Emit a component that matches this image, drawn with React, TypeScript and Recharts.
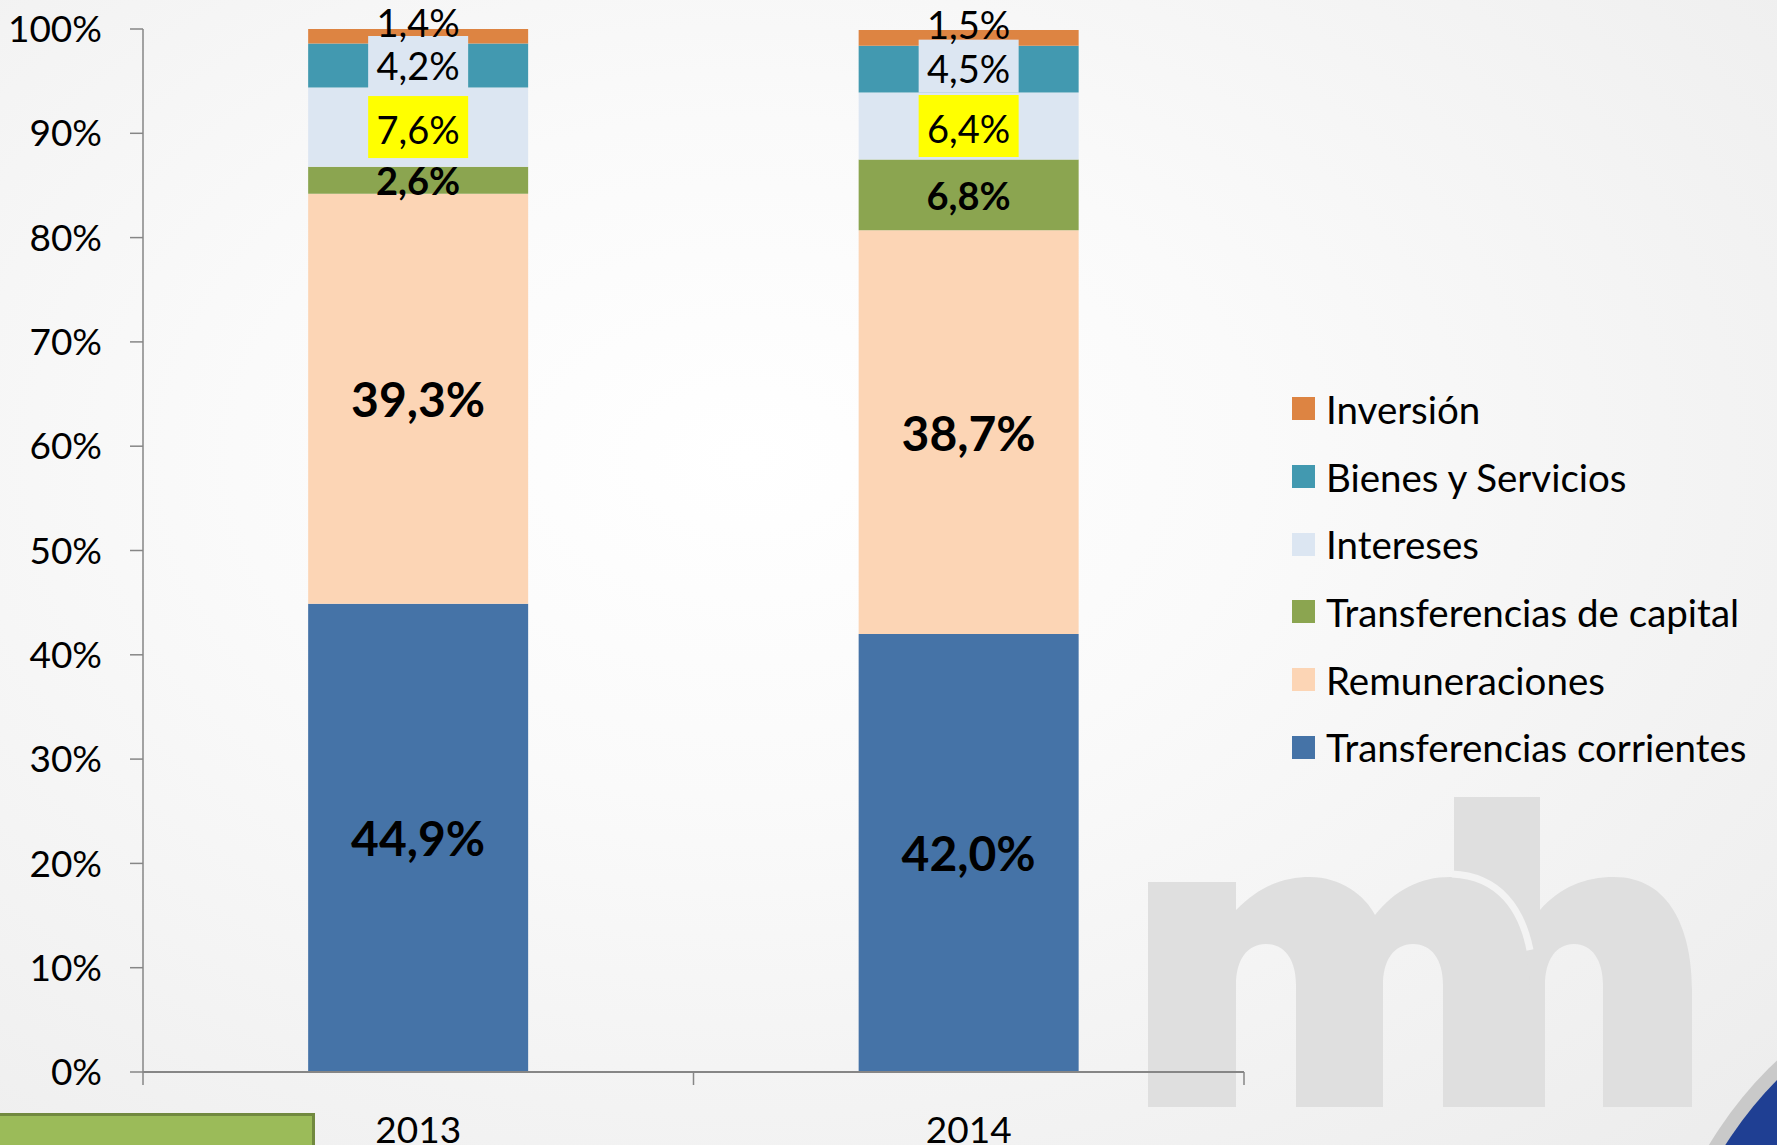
import { BarChart, Bar, XAxis, YAxis, LabelList } from 'recharts';

const years = ['2013', '2014'];
const transCorrientes = [44.9, 42.0];
const remuneraciones = [39.3, 38.7];
const transCapital = [2.6, 6.8];
const intereses = [7.6, 6.4];
const bienesServicios = [4.2, 4.5];
const inversion = [1.4, 1.5];
const yTicks = [0, 10, 20, 30, 40, 50, 60, 70, 80, 90, 100];

// bottom to top of the stack
const series = [
  { key: 'tc', name: 'Transferencias corrientes', values: transCorrientes, color: '#4573a7', label: 'big' },
  { key: 'rem', name: 'Remuneraciones', values: remuneraciones, color: '#fcd5b5', label: 'big' },
  { key: 'cap', name: 'Transferencias de capital', values: transCapital, color: '#8ba550', label: 'bold' },
  { key: 'int', name: 'Intereses', values: intereses, color: '#dce6f2', label: 'yellow' },
  { key: 'bys', name: 'Bienes y Servicios', values: bienesServicios, color: '#4299b0', label: 'box' },
  { key: 'inv', name: 'Inversión', values: inversion, color: '#dd8442', label: 'above' },
];

const data = years.map((year, i) => {
  const row: Record<string, string | number> = { year };
  series.forEach((s) => (row[s.key] = s.values[i]));
  return row;
});

const FONT = 'Lato, "Open Sans", sans-serif';
const fmt = (v: number) => v.toFixed(1).replace('.', ',') + '%';

function makeLabel(kind: string) {
  return (props: any) => {
    const { x, y, width, height, value } = props;
    const cx = x + width / 2;
    let cy = y + height / 2;
    const text = fmt(Number(value));
    if (kind === 'big') {
      return (
        <text x={cx} y={cy} textAnchor="middle" dominantBaseline="central" fontFamily={FONT} fontSize={48} fontWeight={700} fill="#000">
          {text}
        </text>
      );
    }
    if (kind === 'bold') {
      return (
        <text x={cx} y={cy} textAnchor="middle" dominantBaseline="central" fontFamily={FONT} fontSize={38} fontWeight={700} fill="#000">
          {text}
        </text>
      );
    }
    if (kind === 'above') {
      cy = cy - 14;
      return (
        <text x={cx} y={cy} textAnchor="middle" dominantBaseline="central" fontFamily={FONT} fontSize={38} fill="#000">
          {text}
        </text>
      );
    }
    const boxH = kind === 'yellow' ? 62 : 53;
    if (kind === 'box') cy = cy - 3;
    return (
      <g>
        <rect x={cx - 50} y={cy - boxH / 2} width={100} height={boxH} fill={kind === 'yellow' ? '#ffff00' : '#dce6f2'} />
        <text x={cx} y={cy + 2} textAnchor="middle" dominantBaseline="central" fontFamily={FONT} fontSize={38} fill="#000">
          {text}
        </text>
      </g>
    );
  };
}

function YearTick(props: any) {
  const { x, y, payload, index, visibleTicksCount } = props;
  const half = payload && payload.offset ? payload.offset : 275;
  return (
    <g>
      <line x1={x - half} y1={y} x2={x - half} y2={y + 13} stroke="#868686" strokeWidth={1.5} />
      {index === visibleTicksCount - 1 && (
        <line x1={x + half} y1={y} x2={x + half} y2={y + 13} stroke="#868686" strokeWidth={1.5} />
      )}
      <text x={x} y={y + 56} textAnchor="middle" dominantBaseline="central" fontFamily={FONT} fontSize={37} fill="#000">
        {payload.value}
      </text>
    </g>
  );
}

function Watermark() {
  return (
    <svg width={1777} height={1145} style={{ position: 'absolute', left: 0, top: 0 }}>
      <path
        d="M1454,797 H1540 V910 C1560,887 1585,877 1614,877 C1670,877 1692,930 1692,990 V1107 H1603 V985 C1603,960 1592,944 1574,944 C1556,944 1545,960 1545,985 V1107 H1454 Z"
        fill="#dfdfdf"
      />
      <path
        d="M1148,1107 V882 H1236 V910 C1260,885 1285,877 1310,877 C1340,877 1365,895 1375,915 C1395,890 1420,877 1450,877 C1505,877 1528,925 1530,990 V1107 H1443 V985 C1443,960 1432,944 1413,944 C1394,944 1383,960 1383,985 V1107 H1296 V985 C1296,960 1285,944 1266,944 C1247,944 1236,960 1236,985 V1107 Z"
        fill="#dfdfdf"
      />
      <path d="M1452,874 C1500,876 1522,910 1530,950" fill="none" stroke="#f3f3f3" strokeWidth={7} />
      <circle cx={2050} cy={1350} r={398} fill="#c9c9c9" />
      <circle cx={2050} cy={1350} r={384} fill="#1f3f93" />
    </svg>
  );
}

export default function App() {
  const legendItems = [...series].reverse();
  return (
    <div
      style={{
        position: 'absolute',
        left: 0,
        top: 0,
        width: 1777,
        height: 1145,
        overflow: 'hidden',
        background: 'radial-gradient(ellipse at 42% 40%, #ffffff 0%, #fafafa 35%, #ececec 100%)',
      }}
    >
      <Watermark />
      <div style={{ position: 'absolute', left: 0, top: 1113, width: 312, height: 40, background: '#9bbb59', borderTop: '3px solid #71893f', borderRight: '3px solid #71893f' }} />
      <div style={{ position: 'absolute', left: 0, top: 0 }}>
        <BarChart width={1777} height={1145} data={data} margin={{ top: 29, right: 533, bottom: 0, left: 0 }} barCategoryGap="30%">
          <XAxis
            dataKey="year"
            height={73}
            tickLine={false}
            tickSize={0}
            tickMargin={0}
            axisLine={{ stroke: '#868686', strokeWidth: 2 }}
            tick={<YearTick />}
            interval={0}
          />
          <YAxis
            width={143}
            domain={[0, 100]}
            ticks={yTicks}
            allowDataOverflow
            tickFormatter={(v: number) => v + '%'}
            tickSize={13}
            tickMargin={28}
            tickLine={{ stroke: '#868686', strokeWidth: 1.5 }}
            axisLine={{ stroke: '#868686', strokeWidth: 1.5 }}
            tick={{ fontFamily: FONT, fontSize: 37, fill: '#000' }}
          />
          {series.map((s) => (
            <Bar key={s.key} dataKey={s.key} name={s.name} stackId="a" fill={s.color} isAnimationActive={false}>
              <LabelList dataKey={s.key} content={makeLabel(s.label)} />
            </Bar>
          ))}
        </BarChart>
      </div>
      <div style={{ position: 'absolute', left: 1292, top: 375, fontFamily: FONT, fontSize: 38.5, color: '#000' }}>
        {legendItems.map((s) => (
          <div key={s.key} style={{ display: 'flex', alignItems: 'center', height: 67.7 }}>
            <div style={{ width: 23, height: 23, background: s.color, marginRight: 11 }} />
            <span style={{ whiteSpace: 'nowrap' }}>{s.name}</span>
          </div>
        ))}
      </div>
    </div>
  );
}
